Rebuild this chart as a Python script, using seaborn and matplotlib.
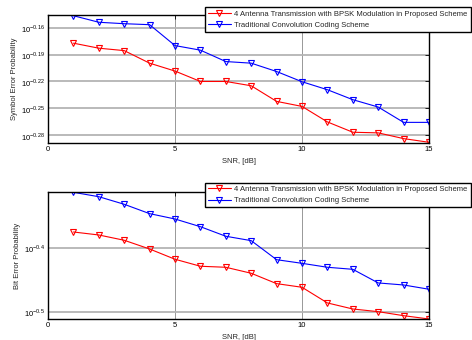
import numpy as np
import pandas as pd
import seaborn as sns
import matplotlib.pyplot as plt

snr = list(range(1, 16))

# symbol error probability (log10 values)
ser_proposed_log = [-0.1773, -0.1829, -0.1856, -0.1996, -0.2084, -0.2200, -0.2200, -0.2248,
                    -0.2422, -0.2478, -0.2651, -0.2766, -0.2773, -0.2837, -0.2878]
ser_traditional_log = [-0.1467, -0.1540, -0.1556, -0.1567, -0.1800, -0.1851, -0.1978, -0.1996,
                       -0.2089, -0.2203, -0.2292, -0.2403, -0.2485, -0.2656, -0.2656]

# bit error probability (log10 values)
ber_proposed_log = [-0.3749, -0.3796, -0.3879, -0.4016, -0.4177, -0.4287, -0.4303, -0.4397,
                    -0.4560, -0.4617, -0.4863, -0.4958, -0.5000, -0.5063, -0.5115]
ber_traditional_log = [-0.3126, -0.3195, -0.3314, -0.3461, -0.3545, -0.3666, -0.3816, -0.3885,
                       -0.4184, -0.4241, -0.4303, -0.4335, -0.4549, -0.4581, -0.4648]

labels = ['4 Antenna Transmission with BPSK Modulation in Proposed Scheme',
          'Traditional Convolution Coding Scheme']
ser_ticks = [-0.16, -0.19, -0.22, -0.25, -0.28]
ber_ticks = [-0.4, -0.5]
xticks = [0, 5, 10, 15]

sns.set_style('white')
plt.rcParams['font.family'] = ['Liberation Sans', 'DejaVu Sans']
plt.rcParams['mathtext.fontset'] = 'custom'
plt.rcParams['mathtext.rm'] = 'Liberation Sans'

fs = 5.5
fig = plt.figure(figsize=(4.72, 3.40), dpi=100)
ax1 = fig.add_axes([0.1017, 0.5794, 0.8072, 0.3765])
ax2 = fig.add_axes([0.1017, 0.0618, 0.8072, 0.3726])


def draw(ax, prop, trad, ticks, ylim, ylabel, legend_y):
    df = pd.DataFrame({
        'snr': snr * 2,
        'p': list(10 ** np.array(prop)) + list(10 ** np.array(trad)),
        'scheme': [labels[0]] * len(snr) + [labels[1]] * len(snr),
    })
    sns.lineplot(data=df, x='snr', y='p', hue='scheme', palette=['#ff0000', '#0000ff'],
                 marker='v', markersize=5, markerfacecolor='none', markeredgewidth=0.8,
                 linewidth=0.8, ax=ax, legend=False)
    # marker edges same colour as lines
    for line in ax.get_lines():
        line.set_markeredgecolor(line.get_color())
    ax.set_yscale('log')
    ax.set_xlim(0, 15)
    ax.set_ylim(10 ** ylim[0], 10 ** ylim[1])
    ax.set_yticks([10 ** t for t in ticks])
    ax.set_yticklabels(['$10^{%g}$' % t for t in ticks])
    ax.minorticks_off()
    ax.set_xticks(xticks)
    ax.set_xticklabels([str(t) for t in xticks])
    ax.tick_params(direction='in', length=3, width=0.6, labelsize=fs, top=True, right=True,
                   pad=2.5, colors='black')
    ax.yaxis.grid(True, color='#b4b4b4', linewidth=1.3)
    ax.xaxis.grid(True, color='#888888', linewidth=0.6)
    ax.set_axisbelow(True)
    for s in ax.spines.values():
        s.set_color('black')
        s.set_linewidth(1.0)
    ax.set_xlabel('SNR, [dB]', fontsize=fs, labelpad=3.5)
    ax.set_ylabel(ylabel, fontsize=fs, labelpad=2)
    handles = ax.get_lines()[:2]
    leg = ax.legend(handles, labels, loc='upper right', fontsize=fs,
                    bbox_to_anchor=(470.7 / 472, legend_y), bbox_transform=fig.transFigure,
                    borderaxespad=0, fancybox=False, framealpha=1, edgecolor='black',
                    handlelength=3.0, handletextpad=0.5, borderpad=0.4, labelspacing=0.5)
    leg.get_frame().set_linewidth(1.0)


draw(ax1, ser_proposed_log, ser_traditional_log, ser_ticks, (-0.2886, -0.1459),
     'Symbol Error Probability', 1 - 7.3 / 340)
draw(ax2, ber_proposed_log, ber_traditional_log, ber_ticks, (-0.5115, -0.3126),
     'Bit Error Probability', 1 - 182.7 / 340)

fig.savefig('out.png', dpi=100)
